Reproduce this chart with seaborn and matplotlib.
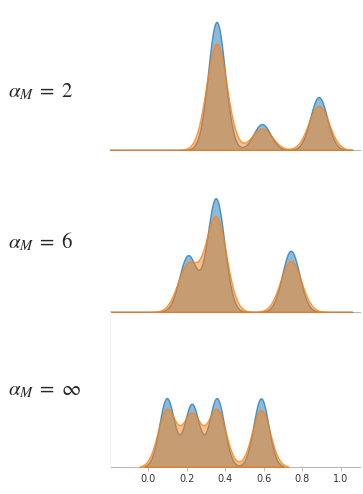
import numpy as np
import matplotlib
matplotlib.use("Agg")
import matplotlib.pyplot as plt
from matplotlib.colors import to_rgba
import seaborn as sns

# -----------------------
# Data
# -----------------------

panel_labels = [r"$\alpha_M\;=\;2$", r"$\alpha_M\;=\;6$", r"$\alpha_M\;=\;\infty$"]

# mode positions and relative weights of each panel
centers_top = [0.354, 0.59, 0.885]
weights_top = [128, 26, 53]
centers_mid = [0.205, 0.35, 0.74]
weights_mid = [56, 113, 61]
centers_bot = [0.095, 0.225, 0.355, 0.585]
weights_bot = [69, 63, 69, 69]

# kernel widths (blue, orange) per panel
bw_blue = [0.044, 0.045, 0.039]
bw_orange = [0.053, 0.054, 0.047]

xticks = [0.0, 0.2, 0.4, 0.6, 0.8, 1.0]

# -----------------------
# Layout (pixels of a 363x494 picture)
# -----------------------
W, H = 363, 494
x0, x1 = 110, 360
baselines = [150, 312, 467]
tops = [10, 162, 312]
peak_px = [128, 114, 69]
label_y = [92, 242, 390]

sns.set_style("white")
plt.rcParams["mathtext.fontset"] = "stix"

fig = plt.figure(figsize=(W / 100, H / 100), dpi=100)

panels = [(centers_top, weights_top), (centers_mid, weights_mid), (centers_bot, weights_bot)]
blue, orange = "#1f77b4", "#ff7f0e"

for i, (cx, wt) in enumerate(panels):
    ax = fig.add_axes([x0 / W, 1 - baselines[i] / H, (x1 - x0) / W,
                       (baselines[i] - tops[i]) / H])
    x = np.array(cx)
    w = np.array(wt, dtype=float)
    sd = np.sqrt(np.cov(x, aweights=w))
    extra = {} if i == 2 else {"cut": 30, "clip": (-0.2, 1.06)}

    sns.kdeplot(x=x, weights=w, bw_method=bw_blue[i] / sd, fill=True,
                color=blue, alpha=0.5, edgecolor=to_rgba(blue, 0.75),
                linewidth=1.0, ax=ax, **extra)
    sns.kdeplot(x=x, weights=w, bw_method=bw_orange[i] / sd, fill=True,
                color=orange, alpha=0.5, edgecolor=to_rgba(orange, 0.75),
                linewidth=1.0, ax=ax, **extra)

    ymax = max(c.get_paths()[0].vertices[:, 1].max() for c in ax.collections)
    ax.set_ylim(0, ymax * (baselines[i] - tops[i]) / peak_px[i])
    ax.set_xlim(-0.2, 1.1)
    ax.set_ylabel("")
    ax.set_yticks([])
    ax.patch.set_alpha(0)

    for s in ["top", "right"]:
        ax.spines[s].set_visible(False)
    ax.spines["bottom"].set_color("#b8b8b8")
    ax.spines["bottom"].set_linewidth(0.8)
    ax.spines["bottom"].set_zorder(0)

    if i < 2:
        ax.spines["left"].set_visible(False)
        ax.set_xticks([])
    else:
        ax.spines["left"].set_color("#f7f7f7")
        ax.spines["left"].set_linewidth(0.8)
        ax.set_xticks(xticks)
        ax.set_xticklabels([f"{t:.1f}" for t in xticks])
        ax.tick_params(axis="x", length=3, width=0.6, color="#b8b8b8",
                       labelsize=7, labelcolor="#333333", pad=2, bottom=True)

    fig.text(8 / W, 1 - label_y[i] / H, panel_labels[i], fontsize=15,
             va="center", ha="left")

fig.savefig("out.png", dpi=100)
